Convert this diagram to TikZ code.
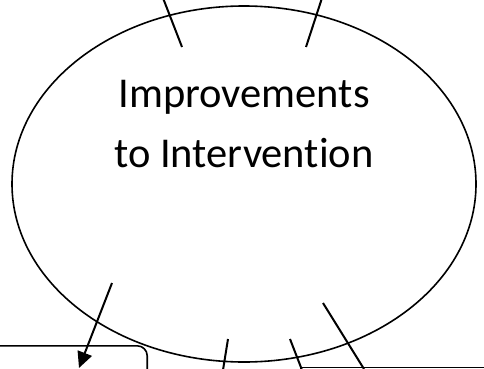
\documentclass[tikz,border=0pt]{standalone}
\usepackage{fontspec}
\setmainfont{Carlito}[Ligatures=NoCommon]
\usetikzlibrary{shapes.geometric,arrows.meta}
\begin{document}
\begin{tikzpicture}[x=1pt,y=1pt,
  oval/.style={draw, ellipse, line width=1.6pt, inner sep=0pt, outer sep=0pt, minimum width=464pt, minimum height=356pt},
  lbl/.style={font=\fontsize{42.5}{60}\selectfont, inner sep=0pt, anchor=base},
  tick/.style={line width=2pt},
  arr/.style={line width=2pt, -{Triangle[length=16pt,width=15pt]}},
  box/.style={draw, line width=1.6pt, rounded corners=10pt}]
\useasboundingbox (0,0) rectangle (484,368);
\clip (0,0) rectangle (484,368);
\node[oval] (e) at (244,184) {};
\node[lbl] (t1) at (244,261) {Improvements};
\node[lbl] (t2) at (244,201) {to Intervention};
\node[box, minimum width=170pt, minimum height=50pt, anchor=north east] (bl) at (148,23) {};
\node[draw, line width=1.6pt, minimum width=200pt, minimum height=50pt, anchor=north west] (br) at (300,1.5) {};
\coordinate (a1) at (163,370); \coordinate (a2) at (182,321);
\coordinate (b1) at (322,370); \coordinate (b2) at (306,321);
\coordinate (c1) at (112,85);  \coordinate (c2) at (79,0);
\coordinate (d1) at (228,29);  \coordinate (d2) at (223,-2);
\coordinate (f1) at (290,29);  \coordinate (f2) at (302,-2);
\coordinate (g1) at (323,65);  \coordinate (g2) at (364,-1);
\draw[tick] (a1) -- (a2);
\draw[tick] (b1) -- (b2);
\draw[arr] (c1) -- (c2);
\draw[tick] (d1) -- (d2);
\draw[tick] (f1) -- (f2);
\draw[tick] (g1) -- (g2);
\end{tikzpicture}
\end{document}
